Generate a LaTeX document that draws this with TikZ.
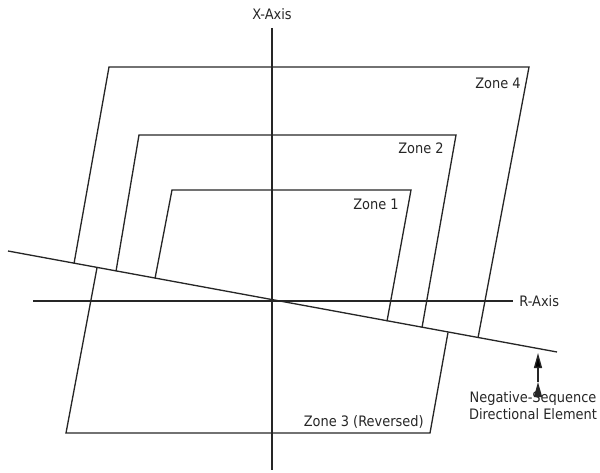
\documentclass[tikz,border=0pt]{standalone}
\usepackage{fontspec}
\setmainfont{DejaVu Sans Condensed}
\usetikzlibrary{arrows.meta}
\begin{document}
\begin{tikzpicture}[x=0.2mm, y=-0.2mm, font=\fontsize{8.2}{9.6}\selectfont,
  ln/.style={draw=black!85, line width=0.75pt},
  lbl/.style={inner sep=0pt, text=black!85}]
\useasboundingbox (0,0) rectangle (600,473);
% axes and the directional element line
\coordinate (xtop) at (272,28);
\coordinate (xbot) at (272,470);
\coordinate (rleft) at (33,301);
\coordinate (rright) at (513,301);
\coordinate (nleft) at (8,251);
\coordinate (nright) at (557,352);
% zone corners
\coordinate (z4a) at (74,263.6);
\coordinate (z4b) at (109,67);
\coordinate (z4c) at (529,67);
\coordinate (z4d) at (478,337.9);
\coordinate (z2a) at (116,271.3);
\coordinate (z2b) at (139,135);
\coordinate (z2c) at (456,135);
\coordinate (z2d) at (422,327.6);
\coordinate (z1a) at (155,278.5);
\coordinate (z1b) at (172,190);
\coordinate (z1c) at (411,190);
\coordinate (z1d) at (387,321.2);
\coordinate (z3a) at (97,267.8);
\coordinate (z3b) at (66,433);
\coordinate (z3c) at (430,433);
\coordinate (z3d) at (448,332.4);
\coordinate (arrbot) at (538,382);
\coordinate (arrtip) at (538,353);
% labels
\node[lbl] (xlab) at (272,14) {X-Axis};
\node[lbl, anchor=west] (rlab) at (519,301) {R-Axis};
\node[lbl, anchor=east] (z4lab) at (521,83) {Zone 4};
\node[lbl, anchor=east] (z2lab) at (444,148) {Zone 2};
\node[lbl, anchor=east] (z1lab) at (399,204) {Zone 1};
\node[lbl, anchor=east] (z3lab) at (424,422) {Zone 3 (Reversed)};
\node[lbl, align=center, anchor=north] (nslab) at (533,391) {Negative-Sequence\\Directional Element};
\path [ln] (xtop) edge (xbot);
\path [ln] (rleft) edge (rright);
\path [ln] (nleft) edge (nright);
\draw [ln] (z4a) -- (z4b) -- (z4c) -- (z4d);
\draw [ln] (z2a) -- (z2b) -- (z2c) -- (z2d);
\draw [ln] (z1a) -- (z1b) -- (z1c) -- (z1d);
\draw [ln] (z3a) -- (z3b) -- (z3c) -- (z3d);
\path [ln, -{Triangle[length=3mm, width=1.6mm]}] (arrbot) edge (arrtip);
\end{tikzpicture}
\end{document}
